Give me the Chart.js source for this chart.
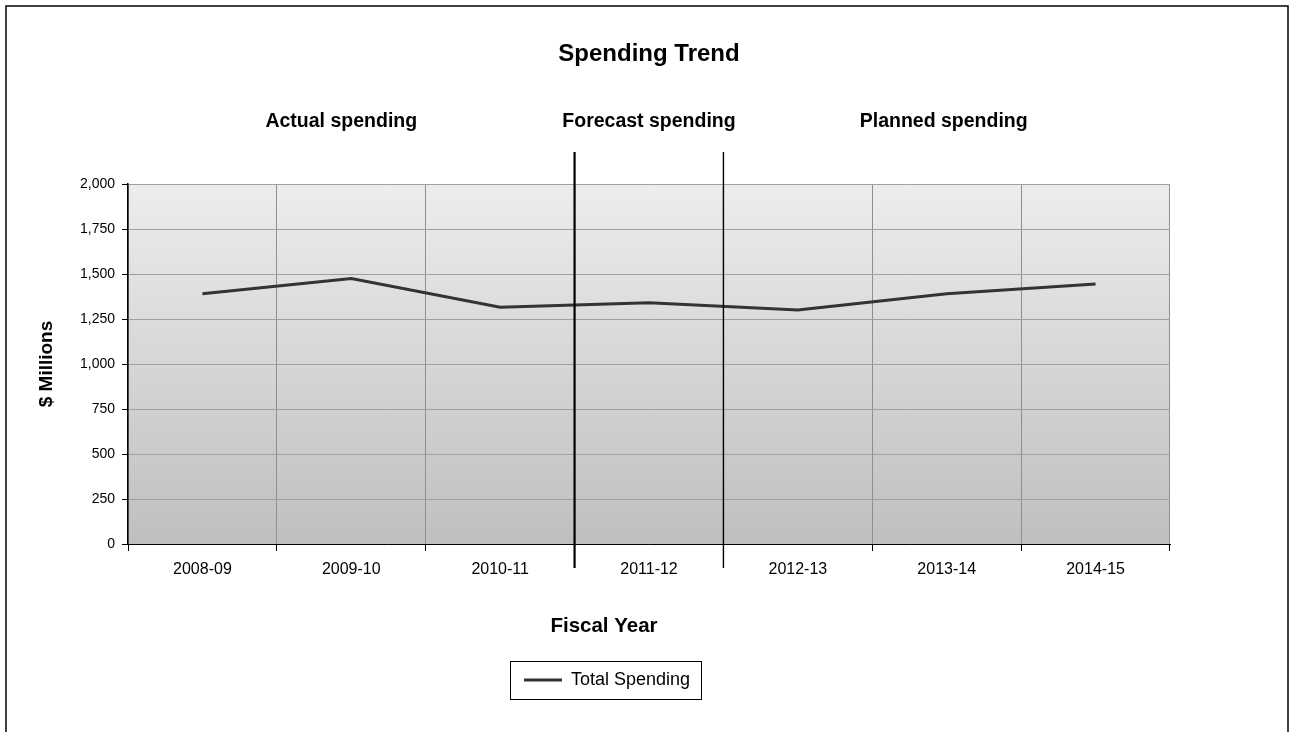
<!DOCTYPE html>
<html>
<head>
<meta charset="utf-8">
<title>Spending Trend</title>
<script src="https://cdn.jsdelivr.net/npm/chart.js@4.4.1/dist/chart.umd.min.js"></script>
<style>
    html, body { margin: 0; padding: 0; background: #fff; }
    canvas { display: block; }
</style>
</head>
<body>
<canvas id="spendingChart" width="1295" height="732"></canvas>
<script>
// Chart data
const fiscalYears = ['2008-09', '2009-10', '2010-11', '2011-12', '2012-13', '2013-14', '2014-15'];
const totalSpending = [1390, 1475, 1315, 1340, 1300, 1390, 1445];
const yMin = 0;
const yMax = 2000;
const yStep = 250;

// Spending periods: label + first/last category index
const periodLabels = ['Actual spending', 'Forecast spending', 'Planned spending'];
const periodStart = [0, 3, 4];
const periodEnd = [2, 3, 6];

const FONT = "'Liberation Sans', Arial, sans-serif";

// Background, period labels/dividers, x title, legend frame and outer frame
const decorPlugin = {
    id: 'decor',
    beforeDraw(chart) {
        const { ctx, chartArea: a } = chart;
        ctx.save();
        ctx.fillStyle = '#fff';
        ctx.fillRect(0, 0, chart.width, chart.height);
        const g = ctx.createLinearGradient(0, a.top, 0, a.bottom);
        g.addColorStop(0, '#ededed');
        g.addColorStop(1, '#bfbfbf');
        ctx.fillStyle = g;
        ctx.fillRect(a.left, a.top, a.right - a.left, a.bottom - a.top);
        ctx.restore();
    },
    afterDraw(chart) {
        const { ctx } = chart;
        const x = chart.scales.x;
        const px = i => x.getPixelForValue(i);
        ctx.save();

        // period labels
        const nudge = [-10, 0, -3];
        ctx.fillStyle = '#000';
        ctx.font = 'bold 19.5px ' + FONT;
        ctx.textAlign = 'center';
        ctx.textBaseline = 'middle';
        periodLabels.forEach((lbl, i) => {
            const cx = (px(periodStart[i]) + px(periodEnd[i])) / 2 + nudge[i];
            ctx.fillText(lbl, cx, 122);
        });

        // dividers between periods
        ctx.strokeStyle = '#000';
        [2.2, 1.4].forEach((w, i) => {
            const bx = (px(periodEnd[i]) + px(periodStart[i + 1])) / 2;
            ctx.lineWidth = w;
            ctx.beginPath();
            ctx.moveTo(bx, 152);
            ctx.lineTo(bx, 568);
            ctx.stroke();
        });

        // x axis title
        ctx.font = 'bold 20.5px ' + FONT;
        ctx.fillText('Fiscal Year', 604, 626);

        // legend frame
        const hb = chart.legend.legendHitBoxes[0];
        if (hb) {
            ctx.lineWidth = 1;
            ctx.strokeStyle = '#000';
            ctx.strokeRect(Math.round(hb.left - 14) + 0.5, Math.round(hb.top - 10) + 0.5,
                Math.round(hb.width + 25), Math.round(hb.height + 20));
        }

        // outer frame
        ctx.lineWidth = 1.5;
        ctx.strokeRect(6, 6, 1282, 740);
        ctx.restore();
    }
};

const ctx = document.getElementById('spendingChart');

new Chart(ctx, {
    type: 'line',
    data: {
        labels: fiscalYears,
        datasets: [{
            label: 'Total Spending',
            data: totalSpending,
            borderColor: '#333',
            backgroundColor: '#333',
            borderWidth: 3,
            pointRadius: 0,
            tension: 0,
            fill: false
        }]
    },
    options: {
        responsive: false,
        animation: false,
        layout: { padding: { left: 8, right: 89, top: 0, bottom: 33 } },
        scales: {
            x: {
                offset: true,
                afterFit: s => { s.height = 117; },
                grid: { offset: true, color: '#8f8f8f', lineWidth: 1, tickLength: 7, tickColor: '#000' },
                border: { color: '#000', width: 1 },
                ticks: { color: '#000', font: { family: FONT, size: 16 }, padding: 9, maxRotation: 0 }
            },
            y: {
                min: yMin,
                max: yMax,
                afterFit: s => { s.width = 120; },
                grid: { color: '#a0a0a0', lineWidth: 1, tickLength: 6, tickColor: '#000' },
                border: { color: '#000', width: 1.5 },
                ticks: { stepSize: yStep, color: '#000', font: { family: FONT, size: 14 }, padding: 7 },
                title: {
                    display: true,
                    text: '$ Millions',
                    color: '#000',
                    font: { family: FONT, size: 19, weight: 'bold' },
                    padding: { top: 27, bottom: 0 }
                }
            },
            // empty right-hand spacer so the legend sits where it does in the original
            spacer: {
                type: 'linear',
                position: 'right',
                display: true,
                afterFit: s => { s.width = 36; },
                grid: { display: false, drawTicks: false },
                border: { display: false },
                ticks: { display: false }
            }
        },
        plugins: {
            title: {
                display: true,
                text: 'Spending Trend',
                fullSize: false,
                color: '#000',
                font: { family: FONT, size: 24, weight: 'bold' },
                padding: { top: 40, bottom: 115.2 }
            },
            legend: {
                position: 'bottom',
                labels: {
                    color: '#000',
                    font: { family: FONT, size: 18 },
                    usePointStyle: true,
                    pointStyle: 'line',
                    pointStyleWidth: 38
                }
            },
            tooltip: { enabled: false }
        }
    },
    plugins: [decorPlugin]
});
</script>
</body>
</html>
